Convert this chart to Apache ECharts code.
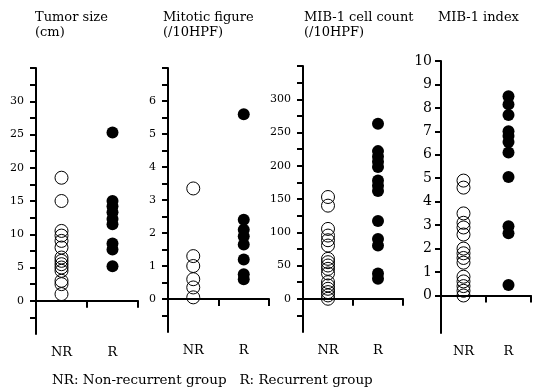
<!DOCTYPE html>
<html>
<head>
<meta charset="utf-8">
<script src="https://cdn.jsdelivr.net/npm/echarts@6/dist/echarts.min.js"></script>
<style>
  html, body { margin: 0; padding: 0; background: #fff; }
  #chart { width: 536px; height: 390px; }
</style>
</head>
<body>
<div id="chart"></div>
<script>
// groups on the x axis
const groups = ['NR', 'R'];

// tumor size (cm)
const sizeNR = [18.5, 15, 10.5, 9.8, 9, 8, 6.5, 6, 5.5, 5, 4.5, 3, 2.5, 1];
const sizeR = [25.3, 15, 14.2, 13.3, 12.3, 11.5, 8.6, 7.7, 5.2];
const sizeTicks = [-2.5, 0, 2.5, 5, 7.5, 10, 12.5, 15, 17.5, 20, 22.5, 25, 27.5, 30, 32.5, 35];
const sizeLabels = [0, 5, 10, 15, 20, 25, 30];

// mitotic figure (/10HPF)
const mitoNR = [3.35, 1.3, 1.0, 0.6, 0.35, 0.05];
const mitoR = [5.6, 2.4, 2.1, 1.9, 1.65, 1.2, 0.75, 0.6];
const mitoTicks = [-0.5, 0, 0.5, 1, 1.5, 2, 2.5, 3, 3.5, 4, 4.5, 5, 5.5, 6, 6.5, 7];
const mitoLabels = [0, 1, 2, 3, 4, 5, 6];

// MIB-1 cell count (/10HPF)
const countNR = [153, 140, 105, 95, 88, 80, 60, 55, 50, 45, 38, 25, 20, 15, 10, 5, 0];
const countR = [263, 222, 214, 206, 198, 178, 170, 162, 117, 90, 80, 38, 30];
const countTicks = [-25, 0, 25, 50, 75, 100, 125, 150, 175, 200, 225, 250, 275, 300, 325, 350];
const countLabels = [0, 50, 100, 150, 200, 250, 300];

// MIB-1 index
const indexNR = [4.9, 4.6, 3.5, 3.1, 2.9, 2.6, 2.0, 1.8, 1.6, 1.4, 0.8, 0.6, 0.4, 0.2, 0];
const indexR = [8.5, 8.15, 7.7, 7.0, 6.8, 6.55, 6.1, 5.05, 2.95, 2.65, 0.45];
const indexTicks = [0, 1, 2, 3, 4, 5, 6, 7, 8, 9, 10];
const indexLabels = [0, 1, 2, 3, 4, 5, 6, 7, 8, 9, 10];

const serif = 'DejaVu Serif';

const panels = [
    { title: 'Tumor size\n(cm)', left: 35, nr: sizeNR, r: sizeR, min: -5, max: 35, ticks: sizeTicks, labels: sizeLabels, fs: 11,
      grid: { left: 36, top: 68, width: 102, height: 266 } },
    { title: 'Mitotic figure\n(/10HPF)', left: 163, nr: mitoNR, r: mitoR, min: -1, max: 7, ticks: mitoTicks, labels: mitoLabels, fs: 11,
      grid: { left: 168, top: 68, width: 101, height: 264 } },
    { title: 'MIB-1 cell count\n(/10HPF)', left: 304, nr: countNR, r: countR, min: -50, max: 350, ticks: countTicks, labels: countLabels, fs: 11,
      grid: { left: 303, top: 66, width: 100, height: 266 } },
    { title: 'MIB-1 index', left: 438, nr: indexNR, r: indexR, min: -1.6, max: 10, ticks: indexTicks, labels: indexLabels, fs: 14,
      grid: { left: 441, top: 61, width: 90, height: 272 } },
];

const chart = echarts.init(document.getElementById('chart'));

const axisLine = { show: true, lineStyle: { color: '#000', width: 2 } };

chart.setOption({
    animation: false,
    backgroundColor: '#fff',
    title: panels.map((p) => ({
        text: p.title,
        left: p.left,
        top: 10,
        padding: 0,
        textStyle: { fontFamily: serif, fontSize: 13, fontWeight: 'normal', color: '#000', lineHeight: 15 },
    })).concat([{
        text: 'NR: Non-recurrent group   R: Recurrent group',
        left: 52,
        top: 373,
        padding: 0,
        textStyle: { fontFamily: serif, fontSize: 13.5, fontWeight: 'normal', color: '#000' },
    }]),
    grid: panels.map((p) => p.grid),
    xAxis: panels.map((p, i) => ({
        type: 'category',
        gridIndex: i,
        data: groups,
        boundaryGap: true,
        axisLine: axisLine,
        axisTick: { show: true, length: 7, lineStyle: { color: '#000', width: 2 } },
        axisLabel: { fontFamily: serif, fontSize: 13, color: '#000', margin: 12 },
        splitLine: { show: false },
    })),
    yAxis: panels.map((p, i) => ({
        type: 'value',
        gridIndex: i,
        min: p.min,
        max: p.max,
        axisLine: axisLine,
        axisTick: { show: true, length: 6, lineStyle: { color: '#000', width: 2 }, customValues: p.ticks },
        axisLabel: { fontFamily: serif, fontSize: p.fs, color: '#000', margin: i === 3 ? 9 : 12, customValues: p.labels },
        splitLine: { show: false },
    })),
    series: panels.flatMap((p, i) => [
        {
            type: 'scatter',
            xAxisIndex: i,
            yAxisIndex: i,
            symbol: 'circle',
            symbolSize: 13,
            data: p.nr.map((v) => ['NR', v]),
            itemStyle: { color: 'rgba(0,0,0,0)', borderColor: '#000', borderWidth: 1, opacity: 1 },
        },
        {
            type: 'scatter',
            xAxisIndex: i,
            yAxisIndex: i,
            symbol: 'circle',
            symbolSize: 12,
            data: p.r.map((v) => ['R', v]),
            itemStyle: { color: '#000', opacity: 1 },
        },
    ]),
});
</script>
</body>
</html>
